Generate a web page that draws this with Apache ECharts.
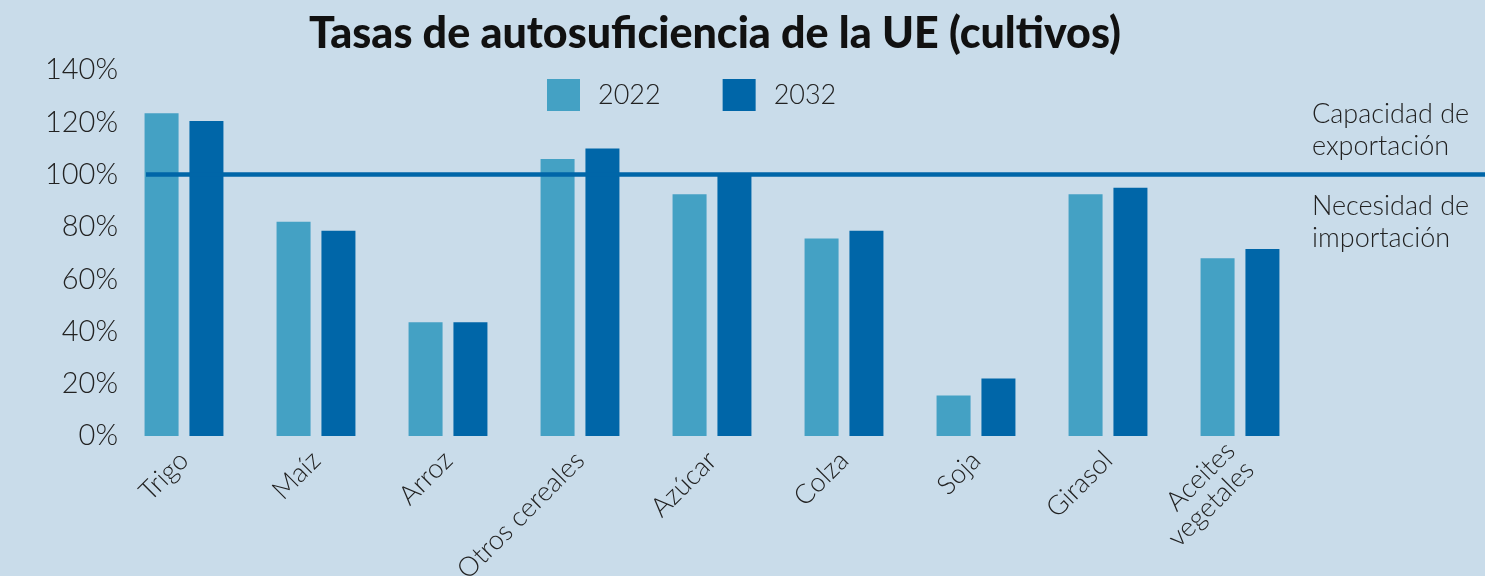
<!DOCTYPE html>
<html>
  <head>
    <meta charset="utf-8" />
    <title>Tasas de autosuficiencia de la UE (cultivos)</title>
    <script src="https://cdn.jsdelivr.net/npm/echarts@6/dist/echarts.min.js"></script>
    <style>
      body {
        margin: 0;
        background: #c9dcea;
      }
      #main {
        width: 1485px;
        height: 576px;
      }
    </style>
  </head>
  <body>
    <div id="main"></div>
    <script type="text/javascript">
      var categories = ["Trigo", "Maíz", "Arroz", "Otros cereales", "Azúcar", "Colza", "Soja", "Girasol", "Aceites\nvegetales"];
      var values2022 = [123.5, 82, 43.5, 106, 92.5, 75.5, 15.5, 92.5, 68];
      var values2032 = [120.5, 78.5, 43.5, 110, 100, 78.5, 22, 95, 71.5];
      var threshold = 100;
      var yTicks = [0, 20, 40, 60, 80, 100, 120, 140];

      var font = "Lato";
      var myChart = echarts.init(document.getElementById("main"));

      var option = {
        backgroundColor: "#c9dcea",
        animation: false,
        color: ["#44a1c4", "#0066a8"],
        title: {
          text: "Tasas de autosuficiencia de la UE (cultivos)",
          left: 710,
          textAlign: "center",
          top: 8,
          textStyle: { fontFamily: font, fontWeight: 900, fontSize: 43, color: "#111" },
        },
        legend: {
          left: 547,
          top: 79,
          padding: 0,
          icon: "rect",
          itemWidth: 33,
          itemHeight: 32,
          itemGap: 62,
          textStyle: { fontFamily: font, fontWeight: 300, fontSize: 27, color: "#222", padding: [0, 0, 0, 13] },
          data: ["2022", "2032"],
        },
        grid: [
          { left: 118, right: 179, top: 70, bottom: 140, outerBoundsMode: "none" },
          { left: 146, right: 0, top: 70, bottom: 140, outerBoundsMode: "none" },
        ],
        xAxis: [
          {
            type: "category",
            data: categories,
            axisLine: { show: false },
            axisTick: { show: false },
            axisLabel: {
              rotate: 45,
              interval: 0,
              margin: 20,
              fontFamily: font,
              fontWeight: 300,
              fontSize: 27,
              lineHeight: 27,
              color: "#222",
            },
          },
          { gridIndex: 1, type: "value", min: 0, max: 1, show: false },
        ],
        yAxis: [
          {
            type: "value",
            min: yTicks[0],
            max: yTicks[yTicks.length - 1],
            interval: 20,
            splitLine: { show: false },
            axisLine: { show: false },
            axisTick: { show: false },
            axisLabel: {
              margin: 0,
              fontFamily: font,
              fontWeight: 300,
              fontSize: 29,
              color: "#222",
              formatter: "{value}%",
            },
          },
          { gridIndex: 1, type: "value", min: 0, max: 140, show: false },
        ],
        series: [
          { name: "2022", type: "bar", barWidth: 34, barGap: "32%", data: values2022 },
          { name: "2032", type: "bar", barWidth: 34, barGap: "32%", data: values2032 },
          {
            name: "umbral",
            type: "line",
            xAxisIndex: 1,
            yAxisIndex: 1,
            symbol: "none",
            z: 5,
            lineStyle: { color: "#0066a8", width: 4.5 },
            data: [
              [0, threshold],
              [1, threshold],
            ],
          },
        ],
        graphic: [
          {
            type: "text",
            left: 1312,
            top: 98,
            style: {
              text: "Capacidad de\nexportación",
              font: "300 27px Lato",
              lineHeight: 32,
              fill: "#222",
            },
          },
          {
            type: "text",
            left: 1312,
            top: 190,
            style: {
              text: "Necesidad de\nimportación",
              font: "300 27px Lato",
              lineHeight: 32,
              fill: "#222",
            },
          },
        ],
      };

      myChart.setOption(option);
    </script>
  </body>
</html>
